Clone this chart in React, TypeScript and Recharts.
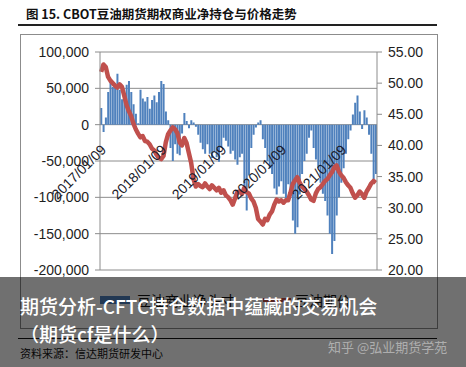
import { ComposedChart, Bar, Line, XAxis, YAxis, CartesianGrid, ReferenceDot } from 'recharts'

// CBOT soybean oil: commercial net position (contracts) and price, biweekly
const netPosition = [
  23000, -10000, 10000, 45000, 62000, 52000, 53000, 70000, 48000, 35000,
  40000, 55000, 60000, 45000, 28000, 15000, 2000, 48000, 36000, 32000,
  38000, 22000, 34000, 40000, 31000, 45000, 60000, 56000, 18000, 6000,
  -32000, -50000, -27000, -40000, -42000, -12000, 16000, 5000, -5000, 6000,
  3000, -3000, -14000, -25000, -34000, -40000, -27000, -40000, -46000, -37000,
  -45000, -51000, -32000, -18000, -22000, -30000, -40000, -36000, -48000, -55000,
  -45000, -40000, -95000, -118000, -70000, -32000, -14000, -4000, 3000, 6000,
  -20000, -32000, -50000, -60000, -68000, -88000, -96000, -85000, -78000, -95000,
  -105000, -82000, -96000, -132000, -150000, -141000, -96000, -68000, -50000, -40000,
  -18000, -8000, -32000, -48000, -60000, -80000, -95000, -105000, -125000, -150000,
  -178000, -160000, -125000, -100000, -80000, -60000, -40000, -20000, -8000, 14000,
  30000, 40000, 18000, -6000, 20000, 10000, -14000, -40000, -75000, -68000,
]

const price = [
  51.8, 53.0, 52.6, 51.0, 50.4, 50.0, 49.6, 49.3, 49.8, 49.4,
  48.0, 46.5, 45.5, 44.7, 43.5, 42.6, 41.9, 41.3, 41.5, 40.7,
  40.6, 40.2, 39.5, 39.2, 38.5, 38.0, 37.8, 38.3, 40.5, 41.8,
  42.4, 42.9, 42.6, 42.0, 40.5, 40.0, 41.2, 40.4, 38.8, 37.2,
  34.6, 33.4, 33.8, 33.5, 33.3, 33.9, 33.4, 33.0, 33.6, 33.2,
  32.8, 33.2, 32.4, 32.8, 32.0, 31.7, 31.2, 30.5, 31.5, 32.5,
  32.6, 32.2, 33.2, 32.5, 32.3, 31.5, 31.0, 30.0, 28.2, 27.8,
  27.3, 28.2, 28.0, 28.9, 29.4, 30.5, 31.3, 31.0, 31.2, 30.8,
  31.2, 31.2, 32.4, 33.8, 34.4, 34.9, 34.0, 33.4, 33.0, 32.6,
  32.0, 31.3, 31.1, 32.3, 33.0, 33.3, 33.8, 34.3, 34.6, 35.2,
  35.7, 36.5, 36.8, 35.8, 35.2, 34.8, 34.1, 33.6, 33.2, 32.3,
  31.6, 32.0, 32.6, 32.2, 31.6, 32.6, 33.2, 33.9, 34.3, 34.0,
]

const dateLabels = ['2017/01/09', '2018/01/09', '2019/01/09', '2020/01/09', '2021/01/09']
const dateLabelIdx = [0, 26, 52, 78, 104]

const leftTicks = [-200000, -150000, -100000, -50000, 0, 50000, 100000]
const rightTicks = [20, 25, 30, 35, 40, 45, 50, 55]

const data = netPosition.map((v, i) => ({ i, net: v, price: price[i] }))

const FONT = '"Liberation Sans", Arial, sans-serif'
const CJK = '"Noto Sans CJK SC", sans-serif'
const tickStyle = { fill: '#1e1e1e', fontSize: 14, fontFamily: FONT }

function DateLabel(props: any) {
  const { cx, cy, label } = props
  const x = cx + 6
  const y = cy + 26
  return (
    <text
      x={x}
      y={y}
      transform={`rotate(-45 ${x} ${y})`}
      textAnchor="end"
      fontSize={14}
      fontFamily={FONT}
      fill="#1a1a2a"
    >
      {label}
    </text>
  )
}

export default function App() {
  return (
    <div style={{ position: 'fixed', left: 0, top: 0, width: 466, height: 367, background: '#fff', overflow: 'hidden' }}>
      <div style={{ position: 'absolute', left: 26, top: 5, fontFamily: CJK, fontWeight: 700, fontSize: 12.5, color: '#111', lineHeight: '18px', whiteSpace: 'nowrap' }}>
        图 15. CBOT豆油期货期权商业净持仓与价格走势
      </div>
      <div style={{ position: 'absolute', left: 18, top: 24, width: 419, height: 1.5, background: '#222' }} />
      <div style={{ position: 'absolute', left: 20, top: 34, width: 416, height: 293, border: '1px solid #8c8c8c' }} />

      <div style={{ position: 'absolute', left: 0, top: 0 }}>
        <ComposedChart width={466} height={367} data={data} margin={{ top: 52, right: 29, bottom: 97, left: 20 }} barCategoryGap="12%">
          <CartesianGrid yAxisId="left" vertical={false} stroke="#8c8c8c" strokeWidth={1} />
          <XAxis dataKey="i" type="category" hide />
          <YAxis
            yAxisId="left"
            domain={[-200000, 100000]}
            ticks={leftTicks}
            allowDataOverflow
            width={80}
            tickSize={5}
            tickMargin={6}
            tick={tickStyle}
            axisLine={{ stroke: '#8c8c8c' }}
            tickLine={{ stroke: '#8c8c8c' }}
            tickFormatter={v => (v as number).toLocaleString('en-US')}
          />
          <YAxis
            yAxisId="right"
            orientation="right"
            domain={[20, 55]}
            ticks={rightTicks}
            allowDataOverflow
            width={60}
            tickSize={5}
            tickMargin={6}
            tick={{ ...tickStyle, textAnchor: 'start' }}
            axisLine={{ stroke: '#8c8c8c' }}
            tickLine={{ stroke: '#8c8c8c' }}
            tickFormatter={v => (v as number).toFixed(2)}
          />
          <Bar yAxisId="left" dataKey="net" fill="#4F81BD" isAnimationActive={false} />
          <Line yAxisId="right" dataKey="price" type="linear" stroke="#C0504D" strokeWidth={4.5} strokeLinejoin="round" dot={false} isAnimationActive={false} />
          {dateLabelIdx.map((idx, k) => (
            <ReferenceDot
              key={idx}
              x={idx}
              y={0}
              yAxisId="left"
              ifOverflow="visible"
              shape={(p: any) => <DateLabel {...p} label={dateLabels[k]} />}
            />
          ))}
        </ComposedChart>
      </div>

      {/* legend (sits under the banner in the source image) */}
      <div style={{ position: 'absolute', left: 100, top: 296, width: 30, height: 8, background: '#4F81BD' }} />
      <div style={{ position: 'absolute', left: 137, top: 291, fontFamily: CJK, fontSize: 14, color: '#111', lineHeight: '18px' }}>豆油商业净头寸</div>
      <div style={{ position: 'absolute', left: 263, top: 298, width: 28, height: 4, background: '#C0504D' }} />
      <div style={{ position: 'absolute', left: 295, top: 291, fontFamily: CJK, fontSize: 14, color: '#111', lineHeight: '18px' }}>豆油期价</div>

      <div style={{ position: 'absolute', left: 18, top: 338, width: 419, height: 1, background: '#111' }} />
      <div style={{ position: 'absolute', left: 20, top: 345, fontFamily: CJK, fontSize: 11, color: '#111', lineHeight: '16px' }}>资料来源：信达期货研发中心</div>

      {/* overlay banner */}
      <div style={{ position: 'absolute', left: 0, top: 277, width: 466, height: 90, background: 'rgba(0,0,0,0.56)' }} />
      <div style={{ position: 'absolute', left: 20, top: 294, fontFamily: CJK, fontSize: 19, fontWeight: 500, color: '#fff', lineHeight: '24px', whiteSpace: 'nowrap' }}>
        期货分析-CFTC持仓数据中蕴藏的交易机会
      </div>
      <div style={{ position: 'absolute', left: 20, top: 322, fontFamily: CJK, fontSize: 19, fontWeight: 500, color: '#fff', lineHeight: '24px', whiteSpace: 'nowrap' }}>
        （期货cf是什么）
      </div>
      <div style={{ position: 'absolute', left: 328, top: 339, fontFamily: CJK, fontSize: 13, color: 'rgba(255,255,255,0.45)', lineHeight: '16px', whiteSpace: 'nowrap' }}>
        知乎 @弘业期货学苑
      </div>
    </div>
  )
}
